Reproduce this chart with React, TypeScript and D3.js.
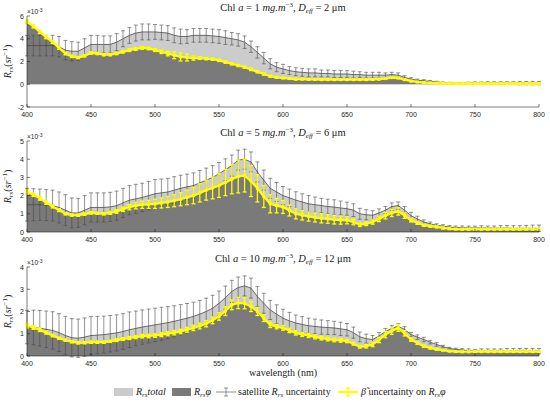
import React from "react";
import * as d3 from "d3";

// wavelength grid (nm), one sample every 5 nm
const wavelengths = d3.range(400, 805, 5);
const xTicks = [400, 450, 500, 550, 600, 650, 700, 750, 800];

// values in 1e-3 sr^-1
const chl1Total = [
  3.4, 3.4, 3.4, 3.4, 3.4, 3.3, 3.0, 2.9, 2.9, 3.2,
  3.5, 3.5, 3.5, 3.5, 3.7, 4.0, 4.3, 4.5, 4.6, 4.6,
  4.6, 4.55, 4.5, 4.3, 4.2, 4.2, 4.3, 4.3, 4.3, 4.25,
  4.2, 4.1, 4.0, 3.9, 3.7, 3.3, 2.8, 2.3, 1.8, 1.5,
  1.35, 1.2, 1.1, 1.05, 1.0, 1.0, 0.95, 0.95, 0.9, 0.9,
  0.9, 0.85, 0.85, 0.8, 0.8, 0.8, 0.8, 0.85, 0.8, 0.6,
  0.45, 0.35, 0.3, 0.25, 0.2, 0.15, 0.12, 0.1, 0.1, 0.1,
  0.1, 0.1, 0.1, 0.1, 0.1, 0.1, 0.1, 0.1, 0.1, 0.1,
  0.1,
];
const chl1Phi = [
  5.5, 5.1, 4.6, 4.15, 3.7, 3.2, 2.7, 2.45, 2.35, 2.5,
  2.75, 2.7, 2.6, 2.6, 2.7, 2.85, 3.0, 3.1, 3.2, 3.15,
  3.0, 2.85, 2.7, 2.55, 2.4, 2.35, 2.3, 2.3, 2.25, 2.2,
  2.1, 1.95, 1.8, 1.65, 1.5, 1.3, 1.1, 0.9, 0.7, 0.6,
  0.55, 0.5, 0.45, 0.45, 0.42, 0.42, 0.4, 0.4, 0.4, 0.4,
  0.4, 0.4, 0.4, 0.4, 0.42, 0.45, 0.5, 0.58, 0.55, 0.4,
  0.28, 0.2, 0.15, 0.12, 0.1, 0.08, 0.07, 0.06, 0.06, 0.05,
  0.05, 0.05, 0.05, 0.05, 0.05, 0.05, 0.05, 0.05, 0.05, 0.05,
  0.05,
];
const chl1SatUnc = [
  0.9, 0.9, 0.9, 0.9, 0.9, 0.9, 0.85, 0.85, 0.8, 0.8,
  0.8, 0.8, 0.75, 0.75, 0.75, 0.7, 0.7, 0.7, 0.7, 0.7,
  0.65, 0.65, 0.65, 0.65, 0.65, 0.6, 0.6, 0.6, 0.6, 0.6,
  0.6, 0.6, 0.55, 0.55, 0.55, 0.5, 0.5, 0.5, 0.45, 0.4,
  0.4, 0.35, 0.35, 0.35, 0.35, 0.35, 0.3, 0.3, 0.3, 0.3,
  0.3, 0.3, 0.25, 0.25, 0.25, 0.25, 0.2, 0.2, 0.2, 0.15,
  0.12, 0.1, 0.1, 0.08, 0.06, 0.05, 0.05, 0.05, 0.05, 0.08,
  0.1, 0.1, 0.12, 0.12, 0.12, 0.12, 0.12, 0.15, 0.15, 0.15,
  0.15,
];
const chl1BetaUnc = [
  0.15, 0.15, 0.15, 0.15, 0.12, 0.12, 0.12, 0.1, 0.1, 0.1,
  0.1, 0.1, 0.1, 0.1, 0.1, 0.1, 0.12, 0.12, 0.12, 0.12,
  0.12, 0.15, 0.2, 0.3, 0.35, 0.3, 0.18, 0.12, 0.1, 0.1,
  0.1, 0.1, 0.1, 0.1, 0.1, 0.1, 0.1, 0.1, 0.08, 0.08,
  0.06, 0.06, 0.06, 0.06, 0.06, 0.06, 0.06, 0.06, 0.06, 0.06,
  0.06, 0.06, 0.06, 0.06, 0.06, 0.06, 0.06, 0.06, 0.06, 0.05,
  0.05, 0.04, 0.04, 0.04, 0.04, 0.03, 0.03, 0.03, 0.03, 0.03,
  0.03, 0.03, 0.03, 0.03, 0.03, 0.03, 0.03, 0.03, 0.03, 0.03,
  0.03,
];

const chl5Total = [
  1.5, 1.5, 1.5, 1.48, 1.45, 1.35, 1.2, 1.05, 1.05, 1.2,
  1.35, 1.35, 1.35, 1.38, 1.45, 1.6, 1.75, 1.82, 1.9, 2.0,
  2.1, 2.15, 2.2, 2.3, 2.4, 2.48, 2.55, 2.7, 2.85, 3.0,
  3.2, 3.42, 3.65, 3.95, 4.0, 3.85, 3.3, 2.85, 2.4, 2.2,
  2.0, 1.88, 1.75, 1.65, 1.55, 1.5, 1.45, 1.4, 1.37, 1.32,
  1.28, 1.2, 1.0, 0.95, 0.92, 1.05, 1.2, 1.4, 1.45, 1.2,
  0.9, 0.72, 0.55, 0.45, 0.37, 0.32, 0.27, 0.25, 0.23, 0.22,
  0.22, 0.22, 0.21, 0.21, 0.21, 0.21, 0.2, 0.2, 0.2, 0.2,
  0.2,
];
const chl5Phi = [
  2.2, 2.05, 1.85, 1.62, 1.4, 1.2, 1.0, 0.93, 0.92, 0.98,
  1.05, 1.03, 1.0, 1.05, 1.13, 1.25, 1.37, 1.45, 1.5, 1.52,
  1.55, 1.6, 1.65, 1.72, 1.8, 1.9, 2.0, 2.15, 2.3, 2.42,
  2.55, 2.72, 2.9, 3.05, 3.1, 2.8, 2.4, 1.95, 1.55, 1.45,
  1.37, 1.18, 1.0, 0.92, 0.85, 0.8, 0.75, 0.72, 0.68, 0.65,
  0.65, 0.55, 0.4, 0.45, 0.55, 0.72, 0.9, 1.05, 1.13, 0.9,
  0.65, 0.5, 0.37, 0.32, 0.28, 0.22, 0.18, 0.16, 0.15, 0.15,
  0.15, 0.15, 0.15, 0.15, 0.15, 0.15, 0.15, 0.15, 0.15, 0.15,
  0.15,
];
const chl5SatUnc = [
  0.9, 0.88, 0.86, 0.85, 0.85, 0.85, 0.85, 0.82, 0.8, 0.8,
  0.8, 0.8, 0.8, 0.8, 0.8, 0.8, 0.8, 0.8, 0.78, 0.78,
  0.78, 0.76, 0.75, 0.74, 0.72, 0.7, 0.7, 0.68, 0.66, 0.65,
  0.62, 0.6, 0.58, 0.55, 0.55, 0.55, 0.55, 0.55, 0.55, 0.52,
  0.5, 0.48, 0.46, 0.45, 0.45, 0.42, 0.4, 0.4, 0.4, 0.38,
  0.36, 0.35, 0.3, 0.28, 0.25, 0.22, 0.2, 0.2, 0.2, 0.2,
  0.18, 0.15, 0.12, 0.1, 0.08, 0.08, 0.08, 0.08, 0.1, 0.1,
  0.1, 0.12, 0.12, 0.12, 0.14, 0.14, 0.15, 0.15, 0.16, 0.18,
  0.18,
];
const chl5BetaUnc = [
  0.12, 0.1, 0.1, 0.1, 0.08, 0.08, 0.06, 0.06, 0.06, 0.06,
  0.06, 0.06, 0.06, 0.08, 0.1, 0.12, 0.15, 0.18, 0.2, 0.22,
  0.25, 0.28, 0.3, 0.33, 0.36, 0.4, 0.45, 0.5, 0.55, 0.6,
  0.65, 0.72, 0.8, 0.9, 0.9, 0.85, 0.75, 0.6, 0.5, 0.4,
  0.35, 0.3, 0.28, 0.26, 0.25, 0.25, 0.25, 0.24, 0.24, 0.22,
  0.2, 0.15, 0.1, 0.1, 0.12, 0.15, 0.18, 0.2, 0.2, 0.15,
  0.1, 0.08, 0.06, 0.05, 0.05, 0.05, 0.04, 0.04, 0.04, 0.04,
  0.04, 0.04, 0.04, 0.04, 0.04, 0.04, 0.04, 0.04, 0.04, 0.04,
  0.04,
];

const chl10Total = [
  1.3, 1.28, 1.25, 1.2, 1.15, 1.05, 0.92, 0.82, 0.8, 0.85,
  0.92, 0.94, 0.96, 1.0, 1.04, 1.1, 1.18, 1.24, 1.3, 1.35,
  1.4, 1.45, 1.5, 1.56, 1.63, 1.7, 1.78, 1.88, 2.0, 2.15,
  2.37, 2.62, 2.9, 3.08, 3.15, 3.05, 2.67, 2.37, 2.07, 1.88,
  1.7, 1.58, 1.48, 1.42, 1.36, 1.33, 1.3, 1.28, 1.26, 1.22,
  1.18, 1.05, 0.86, 0.78, 0.74, 0.9, 1.1, 1.25, 1.33, 1.2,
  0.96, 0.85, 0.74, 0.62, 0.52, 0.42, 0.34, 0.3, 0.27, 0.24,
  0.22, 0.22, 0.22, 0.22, 0.22, 0.22, 0.22, 0.22, 0.22, 0.22,
  0.22,
];
const chl10Phi = [
  1.36, 1.28, 1.18, 1.05, 0.92, 0.8, 0.71, 0.64, 0.59, 0.6,
  0.62, 0.62, 0.62, 0.66, 0.71, 0.76, 0.81, 0.85, 0.89, 0.9,
  0.92, 0.96, 1.0, 1.05, 1.1, 1.18, 1.26, 1.35, 1.45, 1.6,
  1.78, 2.02, 2.3, 2.38, 2.37, 2.22, 2.0, 1.7, 1.4, 1.32,
  1.26, 1.15, 1.04, 0.97, 0.92, 0.86, 0.8, 0.76, 0.72, 0.7,
  0.67, 0.55, 0.41, 0.44, 0.52, 0.72, 0.96, 1.12, 1.26, 1.02,
  0.74, 0.58, 0.44, 0.36, 0.3, 0.26, 0.22, 0.2, 0.19, 0.19,
  0.19, 0.19, 0.19, 0.19, 0.19, 0.19, 0.19, 0.19, 0.19, 0.19,
  0.19,
];
const chl10SatUnc = [
  0.75, 0.78, 0.8, 0.82, 0.84, 0.85, 0.86, 0.86, 0.86, 0.86,
  0.85, 0.84, 0.83, 0.82, 0.81, 0.8, 0.8, 0.78, 0.77, 0.76,
  0.75, 0.74, 0.72, 0.7, 0.68, 0.66, 0.64, 0.62, 0.6, 0.58,
  0.55, 0.52, 0.5, 0.47, 0.45, 0.45, 0.45, 0.45, 0.43, 0.42,
  0.4, 0.38, 0.36, 0.35, 0.34, 0.33, 0.32, 0.31, 0.3, 0.3,
  0.28, 0.25, 0.22, 0.2, 0.18, 0.16, 0.14, 0.13, 0.12, 0.12,
  0.1, 0.1, 0.1, 0.08, 0.08, 0.06, 0.05, 0.05, 0.06, 0.08,
  0.08, 0.1, 0.1, 0.1, 0.1, 0.12, 0.12, 0.12, 0.12, 0.12,
  0.12,
];
const chl10BetaUnc = [
  0.1, 0.08, 0.08, 0.07, 0.06, 0.05, 0.05, 0.05, 0.05, 0.05,
  0.05, 0.05, 0.05, 0.05, 0.06, 0.06, 0.07, 0.07, 0.08, 0.08,
  0.08, 0.09, 0.09, 0.1, 0.1, 0.11, 0.12, 0.13, 0.14, 0.15,
  0.17, 0.2, 0.22, 0.25, 0.25, 0.22, 0.18, 0.15, 0.12, 0.1,
  0.1, 0.1, 0.1, 0.09, 0.09, 0.09, 0.08, 0.08, 0.08, 0.08,
  0.07, 0.06, 0.05, 0.08, 0.1, 0.12, 0.14, 0.15, 0.15, 0.12,
  0.08, 0.06, 0.05, 0.04, 0.04, 0.03, 0.03, 0.03, 0.03, 0.03,
  0.03, 0.03, 0.03, 0.03, 0.03, 0.03, 0.03, 0.03, 0.03, 0.03,
  0.03,
];

const chlLabels = ["1", "5", "10"];
const deffLabels = ["2", "6", "12"];
const yTickSets = [
  [-2, 0, 2, 4, 6],
  [0, 1, 2, 3, 4, 5],
  [0, 1, 2, 3, 4],
];

const W = 550;
const H = 403;
const plotLeft = 27;
const plotRight = 539;
const panelBox = [
  { top: 16, bottom: 107 },
  { top: 141, bottom: 232 },
  { top: 267, bottom: 356 },
];

const serif = "'Liberation Serif', 'DejaVu Serif', serif";
const sans = "'Liberation Sans', Arial, sans-serif";
const axisColor = "#262626";
const lightFill = "#cccccc";
const darkFill = "#7a7a7a";
const satColor = "#4a4a4a";
const yellow = "#ffff00";

interface PanelProps {
  idx: number;
  total: number[];
  phi: number[];
  satUnc: number[];
  betaUnc: number[];
}

function Panel({ idx, total, phi, satUnc, betaUnc }: PanelProps) {
  const { top, bottom } = panelBox[idx];
  const yTicks = yTickSets[idx];
  const x = d3.scaleLinear().domain([400, 800]).range([plotLeft, plotRight]);
  const y = d3
    .scaleLinear()
    .domain([yTicks[0], yTicks[yTicks.length - 1]])
    .range([bottom, top]);

  const area = d3
    .area<number>()
    .x((_, i) => x(wavelengths[i]))
    .y0(y(0))
    .y1((d) => y(d));
  const line = d3
    .line<number>()
    .x((_, i) => x(wavelengths[i]))
    .y((d) => y(d));

  const cap = 2;
  const midX = (plotLeft + plotRight) / 2;

  return (
    <g>
      {/* filled spectra */}
      <path d={area(total) ?? ""} fill={lightFill} />
      <path d={area(phi) ?? ""} fill={darkFill} />

      {/* satellite Rrs with uncertainty */}
      {total.map((v, i) => {
        const cx = x(wavelengths[i]);
        const y1 = y(v - satUnc[i]);
        const y2 = y(v + satUnc[i]);
        return (
          <g key={`s-${i}`} stroke={satColor} strokeWidth={0.6}>
            <line x1={cx} x2={cx} y1={y1} y2={y2} />
            <line x1={cx - cap} x2={cx + cap} y1={y1} y2={y1} />
            <line x1={cx - cap} x2={cx + cap} y1={y2} y2={y2} />
          </g>
        );
      })}
      <path d={line(total) ?? ""} fill="none" stroke={satColor} strokeWidth={0.8} />

      {/* beta uncertainty on Rrs phi */}
      <path d={line(phi) ?? ""} fill="none" stroke={yellow} strokeWidth={2.2} />
      {phi.map((v, i) => {
        const cx = x(wavelengths[i]);
        const y1 = y(v - betaUnc[i]);
        const y2 = y(v + betaUnc[i]);
        return (
          <g key={`b-${i}`} stroke={yellow} strokeWidth={1.3}>
            <line x1={cx} x2={cx} y1={y1} y2={y2} />
            <line x1={cx - cap} x2={cx + cap} y1={y1} y2={y1} />
            <line x1={cx - cap} x2={cx + cap} y1={y2} y2={y2} />
            <rect x={cx - 1.5} y={y(v) - 1.5} width={3} height={3} fill={yellow} stroke="none" />
          </g>
        );
      })}

      {/* axes */}
      <line x1={plotLeft} x2={plotRight} y1={bottom} y2={bottom} stroke={axisColor} strokeWidth={0.6} />
      <line x1={plotLeft} x2={plotLeft} y1={top} y2={bottom} stroke={axisColor} strokeWidth={0.6} />
      {xTicks.map((t) => (
        <g key={`xt-${t}`}>
          <line x1={x(t)} x2={x(t)} y1={bottom} y2={bottom - 3} stroke={axisColor} strokeWidth={0.6} />
          <text
            x={x(t)}
            y={bottom + 9.5}
            textAnchor="middle"
            fontFamily={sans}
            fontSize={7}
            fill={axisColor}
          >
            {t}
          </text>
        </g>
      ))}
      {yTicks.map((t) => (
        <g key={`yt-${t}`}>
          <line x1={plotLeft} x2={plotLeft + 3} y1={y(t)} y2={y(t)} stroke={axisColor} strokeWidth={0.6} />
          <text
            x={plotLeft - 3}
            y={y(t) + 2.5}
            textAnchor="end"
            fontFamily={sans}
            fontSize={7}
            fill={axisColor}
          >
            {t}
          </text>
        </g>
      ))}
      <text x={plotLeft} y={top - 2} fontFamily={sans} fontSize={6.5} fill={axisColor}>
        ×10
        <tspan dy={-2.5} fontSize={5}>
          -3
        </tspan>
      </text>

      {/* y label */}
      <text
        transform={`translate(${plotLeft - 16},${(top + bottom) / 2}) rotate(-90)`}
        textAnchor="middle"
        fontFamily={serif}
        fontSize={10}
        fill={axisColor}
      >
        <tspan fontStyle="italic">R</tspan>
        <tspan fontStyle="italic" fontSize={7} dy={2}>
          rs
        </tspan>
        <tspan dy={-2}>(</tspan>
        <tspan fontStyle="italic">sr</tspan>
        <tspan fontSize={7} dy={-4}>
          −1
        </tspan>
        <tspan dy={4}>)</tspan>
      </text>

      {/* title */}
      <text x={midX} y={top - 5.5} textAnchor="middle" fontFamily={serif} fontSize={10.5} fill="#1a1a1a">
        Chl <tspan fontStyle="italic">a</tspan> = {chlLabels[idx]}{" "}
        <tspan fontStyle="italic">mg.m</tspan>
        <tspan fontSize={7} dy={-3.5}>
          −3
        </tspan>
        <tspan dy={3.5}>, </tspan>
        <tspan fontStyle="italic">D</tspan>
        <tspan fontStyle="italic" fontSize={7} dy={2}>
          eff
        </tspan>
        <tspan dy={-2}> = {deffLabels[idx]} μm</tspan>
      </text>
    </g>
  );
}

function Legend() {
  const ly = 392;
  return (
    <g fontFamily={serif} fontSize={10} fill="#1a1a1a">
      <rect x={114} y={ly - 4} width={19} height={8} fill={lightFill} />
      <text x={136} y={ly + 3}>
        <tspan fontStyle="italic">R</tspan>
        <tspan fontStyle="italic" fontSize={7} dy={1.5}>
          rs
        </tspan>
        <tspan fontStyle="italic" dy={-1.5}>
          total
        </tspan>
      </text>
      <rect x={172} y={ly - 4} width={19} height={8} fill={darkFill} />
      <text x={194} y={ly + 3}>
        <tspan fontStyle="italic">R</tspan>
        <tspan fontStyle="italic" fontSize={7} dy={1.5}>
          rs
        </tspan>
        <tspan fontStyle="italic" dy={-1.5}>
          φ
        </tspan>
      </text>
      <g stroke={satColor} strokeWidth={0.6}>
        <line x1={216} x2={236} y1={ly} y2={ly} />
        <line x1={226} x2={226} y1={ly - 4} y2={ly + 4} />
        <line x1={224} x2={228} y1={ly - 4} y2={ly - 4} />
        <line x1={224} x2={228} y1={ly + 4} y2={ly + 4} />
      </g>
      <text x={238} y={ly + 3}>
        satellite <tspan fontStyle="italic">R</tspan>
        <tspan fontStyle="italic" fontSize={7} dy={1.5}>
          rs
        </tspan>
        <tspan dy={-1.5}> uncertainty</tspan>
      </text>
      <g stroke={yellow} strokeWidth={1.3}>
        <line x1={338} x2={358} y1={ly} y2={ly} strokeWidth={2.2} />
        <line x1={348} x2={348} y1={ly - 4} y2={ly + 4} />
        <line x1={346} x2={350} y1={ly - 4} y2={ly - 4} />
        <line x1={346} x2={350} y1={ly + 4} y2={ly + 4} />
      </g>
      <text x={361} y={ly + 3}>
        <tspan fontStyle="italic">β̃</tspan> uncertainty on <tspan fontStyle="italic">R</tspan>
        <tspan fontStyle="italic" fontSize={7} dy={1.5}>
          rs
        </tspan>
        <tspan fontStyle="italic" dy={-1.5}>
          φ
        </tspan>
      </text>
    </g>
  );
}

export default function App() {
  const series = [
    { total: chl1Total, phi: chl1Phi, satUnc: chl1SatUnc, betaUnc: chl1BetaUnc },
    { total: chl5Total, phi: chl5Phi, satUnc: chl5SatUnc, betaUnc: chl5BetaUnc },
    { total: chl10Total, phi: chl10Phi, satUnc: chl10SatUnc, betaUnc: chl10BetaUnc },
  ];
  return (
    <svg
      width={W}
      height={H}
      style={{ position: "absolute", left: 0, top: 0, background: "#fff" }}
    >
      {series.map((s, i) => (
        <Panel key={i} idx={i} {...s} />
      ))}
      <text
        x={(plotLeft + plotRight) / 2}
        y={376}
        textAnchor="middle"
        fontFamily={serif}
        fontSize={10}
        fill="#1a1a1a"
      >
        wavelength (nm)
      </text>
      <Legend />
    </svg>
  );
}
